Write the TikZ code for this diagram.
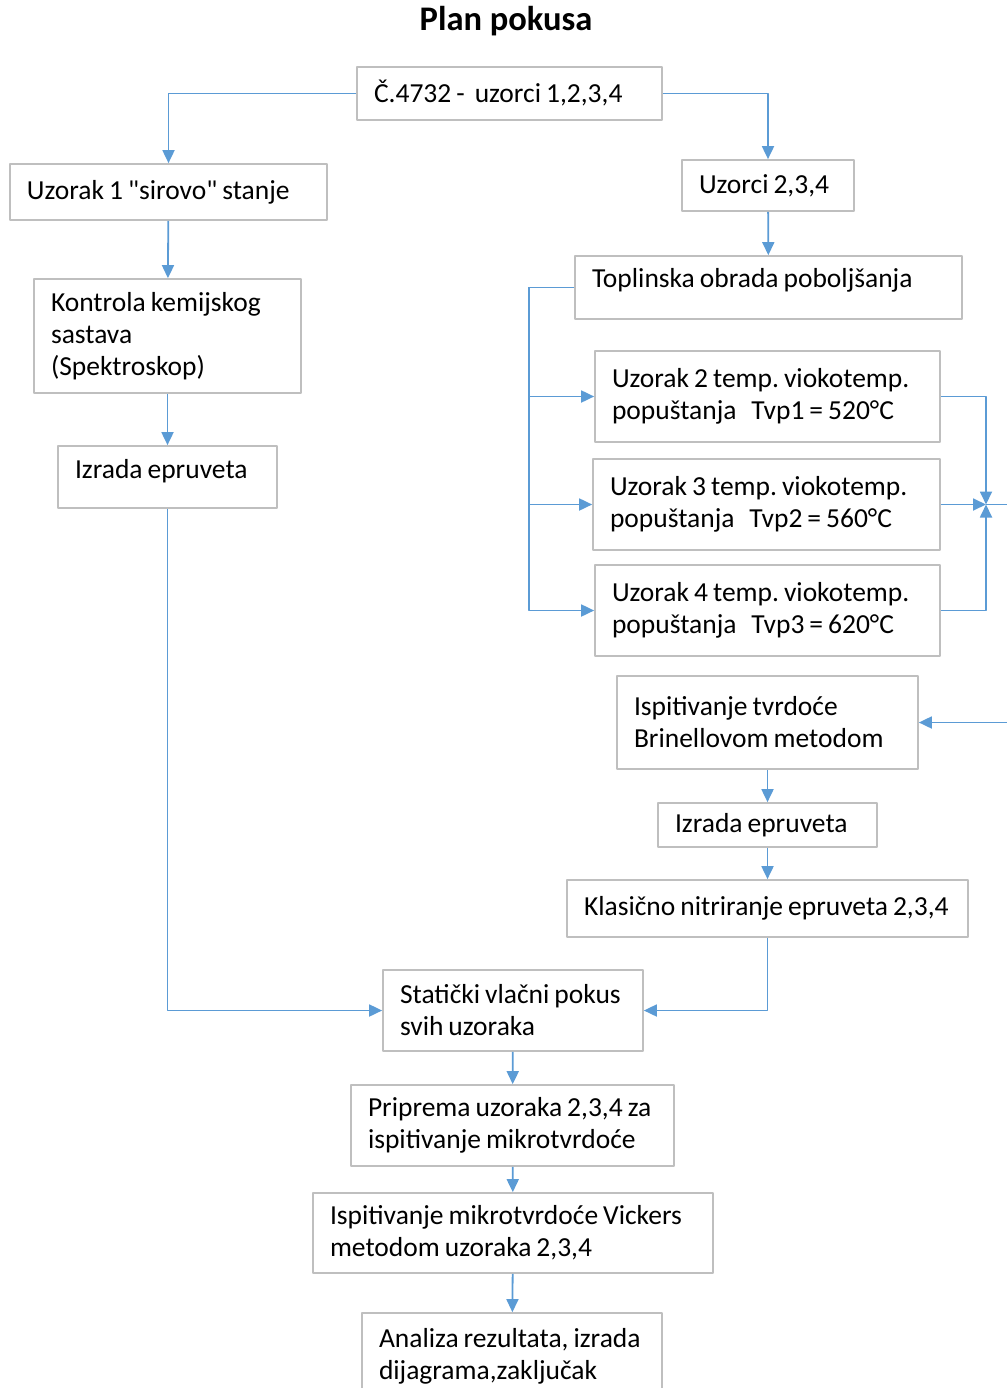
\documentclass[tikz,border=0pt]{standalone}
\usepackage{fontspec}
\setmainfont{Carlito}
\usetikzlibrary{arrows.meta}
\definecolor{flowblue}{HTML}{5B9BD5}
\definecolor{boxgray}{HTML}{BFBFBF}
\newcommand\tightsp{\frenchspacing\spaceskip=5pt plus 1pt minus 1pt\relax}
\begin{document}
\begin{tikzpicture}[x=1pt, y=-1pt, line join=round,
    >={Triangle[length=13pt,width=12pt]},
    box/.style={draw=boxgray, line width=1.7pt, inner xsep=17pt, inner ysep=0pt, align=left,
        font=\fontsize{27.5}{32}\selectfont, execute at begin node=\tightsp},
    flow/.style={draw=flowblue, line width=1.8pt, ->},
    link/.style={draw=flowblue, line width=1.8pt}]
\path[use as bounding box] (0,0) rectangle (1006,1388);
\node[font=\bfseries\fontsize{34.5}{40}\selectfont] (title) at (506,21) {Plan pokusa};
% lijeva grana
\node[box, text width=271pt, minimum height=53pt] (cel) at (509.5,93.5) {Č.4732 -\ \ uzorci 1,2,3,4};
\node[box, text width=283pt, minimum height=56pt] (uz1) at (168.5,192) {Uzorak 1 \textquotedbl sirovo\textquotedbl\ stanje};
\node[box, text width=233pt, minimum height=114pt] (kem) at (167.5,336) {Kontrola kemijskog\\sastava\\(Spektroskop)};
\node[box, text width=185pt, minimum height=62pt, text depth=16pt] (epr1) at (167.5,477) {Izrada epruveta};
% desna grana
\node[box, text width=138pt, minimum height=51pt] (uz234) at (768,185.5) {Uzorci 2,3,4};
\node[box, text width=353pt, minimum height=63pt, text depth=19pt] (topl) at (768.5,287.5) {Toplinska obrada poboljšanja};
\node[box, text width=311pt, minimum height=91pt] (tvp1) at (767.5,396.5) {Uzorak 2 temp. viokotemp.\\popuštanja\ \ \ Tvp1 = 520°C};
\node[box, text width=313pt, minimum height=91pt] (tvp2) at (766.5,504.5) {Uzorak 3 temp. viokotemp.\\popuštanja\ \ \ Tvp2 = 560°C};
\node[box, text width=311pt, minimum height=91pt] (tvp3) at (767.5,610.5) {Uzorak 4 temp. viokotemp.\\popuštanja\ \ \ Tvp3 = 620°C};
\node[box, text width=267pt, minimum height=93pt] (brin) at (767.5,722.5) {Ispitivanje tvrdoće\\Brinellovom metodom};
\node[box, text width=185pt, minimum height=44pt] (epr2) at (767.5,825) {Izrada epruveta};
\node[box, text width=367pt, minimum height=57pt] (nitr) at (767.5,908.5) {Klasično nitriranje epruveta 2,3,4};
% zajednicki dio
\node[box, text width=226pt, minimum height=81pt] (vlak) at (513,1010.5) {Statički vlačni pokus\\svih uzoraka};
\node[box, text width=289pt, minimum height=81pt] (prip) at (512.5,1125.5) {Priprema uzoraka 2,3,4 za\\ispitivanje mikrotvrdoće};
\node[box, text width=366pt, minimum height=80pt] (vick) at (513,1233) {Ispitivanje mikrotvrdoće Vickers\\metodom uzoraka 2,3,4};
\node[box, text width=266pt, minimum height=86pt] (anal) at (512,1356) {Analiza rezultata, izrada\\dijagrama,zaključak};
\coordinate (mrg) at (986,504.5);
\coordinate (rt) at (1014,504.5);
\draw[flow] (cel.west) -| (uz1.north);
\draw[flow] (cel.east) -| (uz234.north);
\draw[flow] (uz1) -- (kem);
\draw[flow] (kem) -- (epr1);
\draw[flow] (uz234) -- (topl);
\draw[flow] (topl.west) -- ++(-45,0) |- (tvp1.west);
\draw[flow] (topl.west) -- ++(-45,0) |- (tvp2.west);
\draw[flow] (topl.west) -- ++(-45,0) |- (tvp3.west);
\draw[flow] (tvp1.east) -| (mrg);
\draw[flow] (tvp2.east) -- (mrg);
\draw[flow] (tvp3.east) -| (mrg);
\draw[link] (mrg) -- (rt);
\draw[flow] (rt) |- (brin.east);
\draw[flow] (brin) -- (epr2);
\draw[flow] (epr2) -- (nitr);
\draw[flow] (nitr.south) |- (vlak.east);
\draw[flow] (epr1.south) |- (vlak.west);
\draw[flow] (vlak) -- (prip);
\draw[flow] (prip) -- (vick);
\draw[flow] (vick) -- (anal);
\end{tikzpicture}
\end{document}
